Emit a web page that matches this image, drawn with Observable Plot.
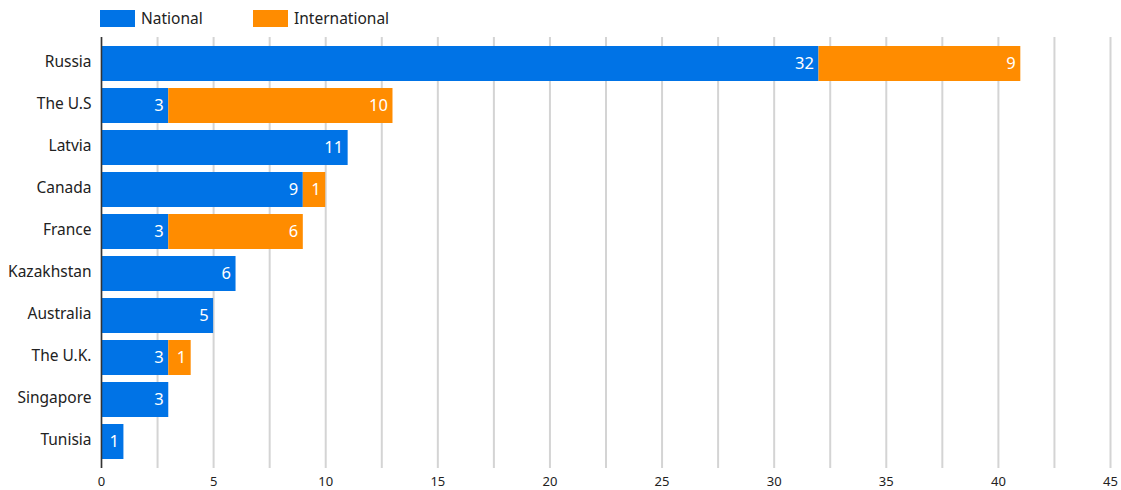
<!DOCTYPE html>
<html>
<head>
<meta charset="utf-8">
<script src="https://cdn.jsdelivr.net/npm/d3@7"></script>
<script src="https://cdn.jsdelivr.net/npm/@observablehq/plot@0.6"></script>
<style>
  html, body { margin: 0; padding: 0; background: #fff; }
  body { width: 1121px; height: 490px; overflow: hidden; font-family: "Noto Sans", "Open Sans", sans-serif; }
  #legend { position: relative; height: 35px; font-size: 15.5px; color: #222; }
  .item { position: absolute; top: 7px; display: flex; align-items: center; }
  .sw { width: 35px; height: 17px; margin-right: 6px; }
  #chart svg { display: block; }
</style>
</head>
<body>
<div id="legend"></div>
<div id="chart"></div>
<script>
const countries = ["Russia", "The U.S", "Latvia", "Canada", "France", "Kazakhstan", "Australia", "The U.K.", "Singapore", "Tunisia"];
const national = [32, 3, 11, 9, 3, 6, 5, 3, 3, 1];
const international = [9, 10, 0, 1, 6, 0, 0, 1, 0, 0];
const seriesNames = ["National", "International"];
const seriesColors = ["#0073e6", "#ff8c00"];
const xTicks = [0, 5, 10, 15, 20, 25, 30, 35, 40, 45];
const gridTicks = d3.range(0, 45.01, 2.5);

const rows = [];
countries.forEach((c, i) => rows.push({country: c, type: "National", value: national[i]}));
countries.forEach((c, i) => rows.push({country: c, type: "International", value: international[i]}));

// legend
const legend = document.getElementById("legend");
const legendX = [100, 253];
seriesNames.forEach((s, i) => {
  const it = document.createElement("div");
  it.className = "item";
  it.style.left = legendX[i] + "px";
  it.innerHTML = `<div class="sw" style="background:${seriesColors[i]}"></div><span>${s}</span>`;
  legend.appendChild(it);
});

const chart = Plot.plot({
  width: 1121,
  height: 455,
  marginLeft: 101,
  marginRight: 11,
  marginTop: 2,
  marginBottom: 22,
  style: {fontFamily: "Noto Sans, Open Sans, sans-serif", color: "#222", background: "#fff"},
  x: {domain: [0, 45], ticks: xTicks, tickSize: 0, tickPadding: 6, label: null},
  y: {domain: countries, padding: 0.17, tickSize: 0, tickPadding: 10, label: null},
  color: {domain: seriesNames, range: seriesColors},
  marks: [
    Plot.ruleX(gridTicks, {stroke: "#d4d4d4", strokeWidth: 2}),
    Plot.barX(rows, Plot.stackX({x: "value", y: "country", fill: "type", order: seriesNames})),
    Plot.ruleX([0], {stroke: "#333", strokeWidth: 1.5}),
    Plot.text(rows.filter(d => d.value > 0), Plot.stackX2({x: "value", y: "country", z: "type", order: seriesNames, text: d => String(d.value), fill: "white", textAnchor: "end", dx: -5, fontSize: 16.5})),
    Plot.axisY({tickSize: 0, tickPadding: 10, fontSize: 15.5, dy: -2}),
    Plot.axisX({ticks: xTicks, tickSize: 0, tickPadding: 8, fontSize: 13})
  ]
});
document.getElementById("chart").appendChild(chart);
</script>
</body>
</html>
